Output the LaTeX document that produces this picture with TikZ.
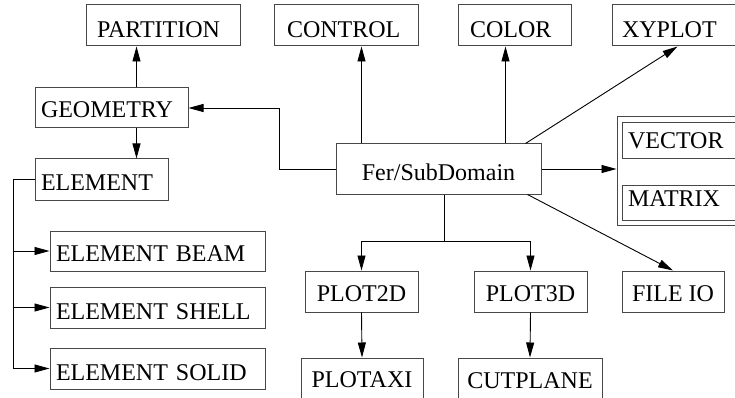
\documentclass[tikz,border=0pt]{standalone}
\usepackage{fontspec}
\setmainfont{Liberation Serif}
\usetikzlibrary{arrows.meta,calc}
\begin{document}
\begin{tikzpicture}[x=1pt,y=-1pt,
  blk/.style={draw=black!72, line width=1pt, rectangle, inner ysep=0pt,
              font=\fontsize{24}{28}\selectfont},
  lft/.style={align=left},
  ctr/.style={align=center, inner xsep=0pt},
  arr/.style={draw=black, line width=0.9pt, -{Triangle[length=15pt,width=8pt]}},
  wire/.style={draw=black, line width=0.9pt}]
\clip (0,0) rectangle (735,398);

% top row
\node[blk, lft, text width=132pt, inner xsep=11pt, text height=32.5pt, text depth=8.5pt] (part) at (163,25.5) {PARTITION};
\node[blk, lft, text width=118pt, inner xsep=13pt, text height=32.5pt, text depth=8.5pt] (ctrl) at (346,25.5) {CONTROL};
\node[blk, lft, text width=89pt, inner xsep=12pt, text height=32.5pt, text depth=8.5pt] (color) at (514.5,25.5) {COLOR};
\node[blk, lft, text width=113pt, inner xsep=10pt, text height=32.5pt, text depth=8.5pt] (xyplot) at (678.5,25.5) {XYPLOT};

% geometry and element family
\node[blk, lft, text width=141pt, inner xsep=6pt, text height=30pt, text depth=10pt] (geom) at (111.5,108) {GEOMETRY};
\node[blk, lft, text width=121pt, inner xsep=6pt, text height=31pt, text depth=10pt] (elem) at (101.5,179.5) {ELEMENT};
\node[blk, lft, text width=203pt, inner xsep=6pt, text height=30pt, text depth=10pt] (beam) at (157.5,251) {ELEMENT BEAM};
\node[blk, lft, text width=203pt, inner xsep=6pt, text height=32.5pt, text depth=8.5pt] (shell) at (157.5,307.5) {ELEMENT SHELL};
\node[blk, lft, text width=203pt, inner xsep=6pt, text height=32pt, text depth=9pt] (solid) at (157.5,368.5) {ELEMENT SOLID};

% central domain
\node[blk, ctr, minimum width=205pt, text height=36pt, text depth=14pt] (fer) at (438.5,169) {Fer/SubDomain};

% vector / matrix store
\node[blk, minimum width=133pt, minimum height=108pt, inner sep=0pt] (store) at (683.5,171) {};
\node[blk, lft, text width=111pt, inner xsep=6pt, text height=26pt, text depth=10pt] (vector) at (683.5,141) {VECTOR};
\node[blk, lft, text width=111pt, inner xsep=6pt, text height=21.5pt, text depth=13.5pt] (matrix) at (683.5,202.5) {MATRIX};

% plotting and io
\node[blk, ctr, minimum width=113pt, text height=30.5pt, text depth=10.5pt] (plot2d) at (361.5,291.5) {PLOT2D};
\node[blk, ctr, minimum width=113pt, text height=30.5pt, text depth=10.5pt] (plot3d) at (530.5,291.5) {PLOT3D};
\node[blk, ctr, minimum width=102pt, text height=30.5pt, text depth=10.5pt] (fileio) at (673,291.5) {FILE IO};
\node[blk, ctr, minimum width=122pt, text height=29pt, text depth=33pt] (plotaxi) at (362,389) {PLOTAXI};
\node[blk, ctr, minimum width=144pt, text height=30pt, text depth=32pt] (cutplane) at (530,389) {CUTPLANE};

% geometry links
\coordinate (gp) at ($(geom.north west)+(102,0)$);
\draw[arr] (gp) -- (gp |- part.south);
\coordinate (gd) at ($(geom.south west)+(102,0)$);
\draw[arr] (gd) -- (gd |- elem.north);

% element bus
\coordinate (bus) at ($(elem.west)+(-21,0)$);
\draw[arr] (elem.west) -- (bus) |- (solid.west);
\draw[arr] (bus |- beam.west) -- (beam.west);
\draw[arr] (bus |- shell.west) -- (shell.west);

% links out of the domain
\coordinate (fw) at ($(fer.west)+(-56,0)$);
\draw[arr] (fer.west) -- (fw) |- (geom.east);
\coordinate (fc) at ($(fer.north west)+(26,0)$);
\draw[arr] (fc) -- (fc |- ctrl.south);
\coordinate (fk) at ($(fer.north east)+(-36,0)$);
\draw[arr] (fk) -- (fk |- color.south);
\coordinate (fx) at ($(fer.north east)+(-16,0)$);
\coordinate (xt) at ($(xyplot.south west)+(66,0)$);
\draw[arr] (fx) -- (xt);
\draw[arr] (fer.east) -- (fer.east -| store.west);
\coordinate (ff) at ($(fer.south east)+(-14,0)$);
\draw[arr] (ff) -- (fileio.north);

% plot branch
\coordinate (fb) at ($(fer.south)+(5.5,0)$);
\coordinate (fj) at ($(fb)+(0,47)$);
\draw[wire] (fb) -- (fj);
\draw[arr] (fj) -| (plot2d.north);
\draw[arr] (fj) -| (plot3d.north);
\draw[arr] (plot2d.south) -- (plotaxi.north);
\draw[arr] (plot3d.south) -- (cutplane.north);
\end{tikzpicture}
\end{document}
